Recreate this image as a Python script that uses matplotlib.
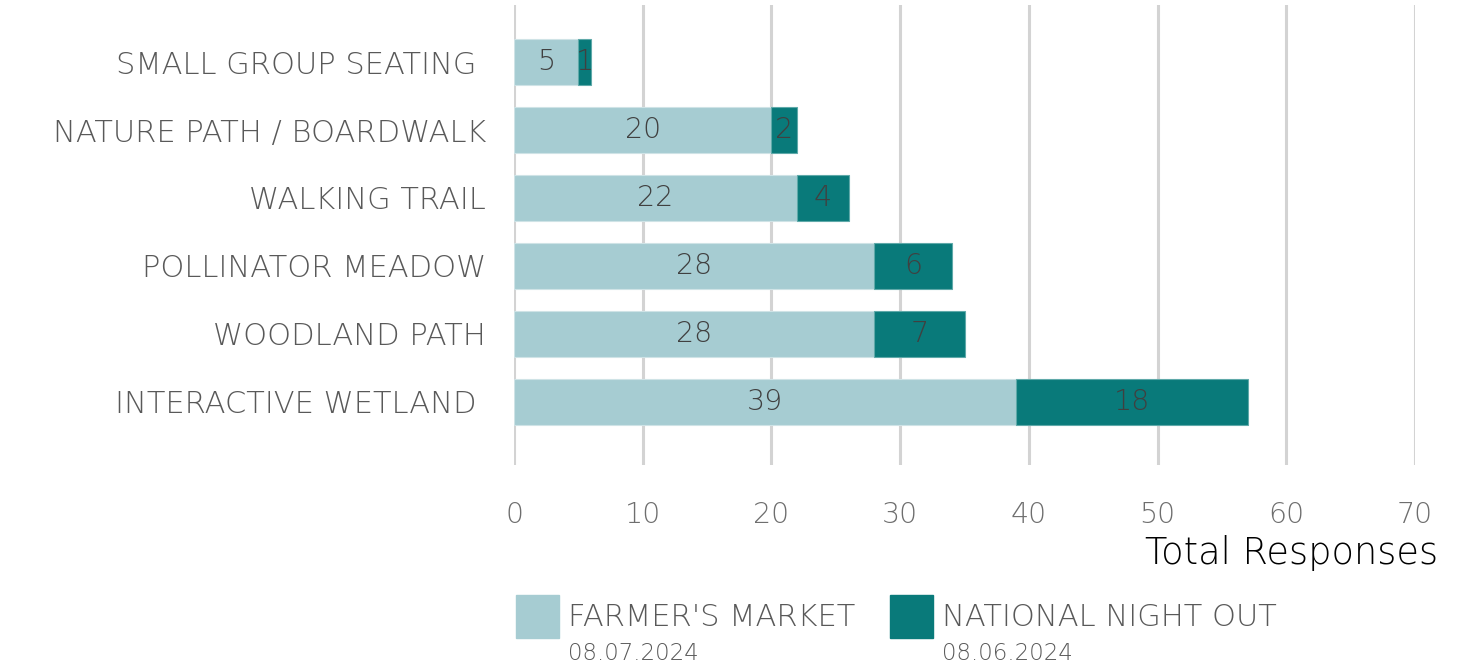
"""
Stacked horizontal bar chart: amenity preference by event.
"""

# ---------------------------------------------------------------------------- #
# NEEDED IMPORTS

import matplotlib
matplotlib.use("Agg")
import matplotlib.pyplot as plt
from matplotlib.patches import Rectangle
import numpy as np

# ---------------------------------------------------------------------------- #
# DATA (bottom to top)

categories = ["INTERACTIVE WETLAND ", "WOODLAND PATH", "POLLINATOR MEADOW",
              "WALKING TRAIL", "NATURE PATH / BOARDWALK", "SMALL GROUP SEATING "]
farmers_market = [39, 28, 28, 22, 20, 5]
national_night_out = [18, 7, 6, 4, 2, 1]
series_names = ["FARMER'S MARKET", "NATIONAL NIGHT OUT"]
series_dates = ["08.07.2024", "08.06.2024"]
x_ticks = [0, 10, 20, 30, 40, 50, 60, 70]

# ---------------------------------------------------------------------------- #
# STYLE

LIGHT = "#A6CCD2"
DARK = "#097A7A"
GRID = "#D3D3D3"
TEXT = "#595959"
VALUE = "#404040"

plt.rcParams['font.family'] = ['DejaVu Sans']
plt.rcParams['font.weight'] = 'light'

fig = plt.figure(figsize=(14.8, 6.69), dpi=100)
ax = fig.add_axes([514 / 1480, 1 - 465 / 669, (1415 - 514) / 1480, 460 / 669])

y = np.arange(len(categories))
h = 0.67

# Bars
ax.barh(y, farmers_market, height=h, color=LIGHT, edgecolor="#CFE3E6",
        linewidth=0.8, zorder=3)
ax.barh(y, national_night_out, left=farmers_market, height=h, color=DARK,
        edgecolor="#5FA9A9", linewidth=0.8, zorder=3)

# Value labels
for yi, a, b in zip(y, farmers_market, national_night_out):
    ax.text(a / 2, yi, str(a), ha="center", va="center", fontsize=20.5,
            color=VALUE, zorder=4)
    ax.text(a + b / 2, yi, str(b), ha="center", va="center", fontsize=20.5,
            color=VALUE, zorder=4)

# Axes
ax.set_xlim(0, 70)
ax.set_ylim(-0.93, 5.84)
ax.set_xticks(x_ticks)
ax.set_xticklabels([str(t) for t in x_ticks])
ax.set_yticks(y)
ax.set_yticklabels(categories)
for s in ax.spines.values():
    s.set_visible(False)
ax.grid(axis="x", color=GRID, linewidth=2.2, zorder=0)
ax.tick_params(axis="x", length=0, pad=26, labelsize=20.5, labelcolor="#6E6E6E")
ax.tick_params(axis="y", length=0, pad=20, labelsize=22, labelcolor=TEXT)

# Axis title
fig.text(1438 / 1480, 1 - 553 / 669, "Total Responses", ha="right",
         va="center", fontsize=26.5, color="black")

# Legend (manual)
colors = [LIGHT, DARK]
box_x = [516, 890]
for bx, c, name, date in zip(box_x, colors, series_names, series_dates):
    fig.add_artist(Rectangle((bx / 1480, 1 - 638 / 669), 43 / 1480, 43 / 669,
                             transform=fig.transFigure, color=c))
    fig.text((bx + 52) / 1480, 1 - 617 / 669, name, ha="left", va="center",
             fontsize=22, color=TEXT)
    fig.text((bx + 52) / 1480, 1 - 654 / 669, date, ha="left", va="center",
             fontsize=16.5, color=TEXT)

fig.savefig("out.png", dpi=100)

# end of file #
